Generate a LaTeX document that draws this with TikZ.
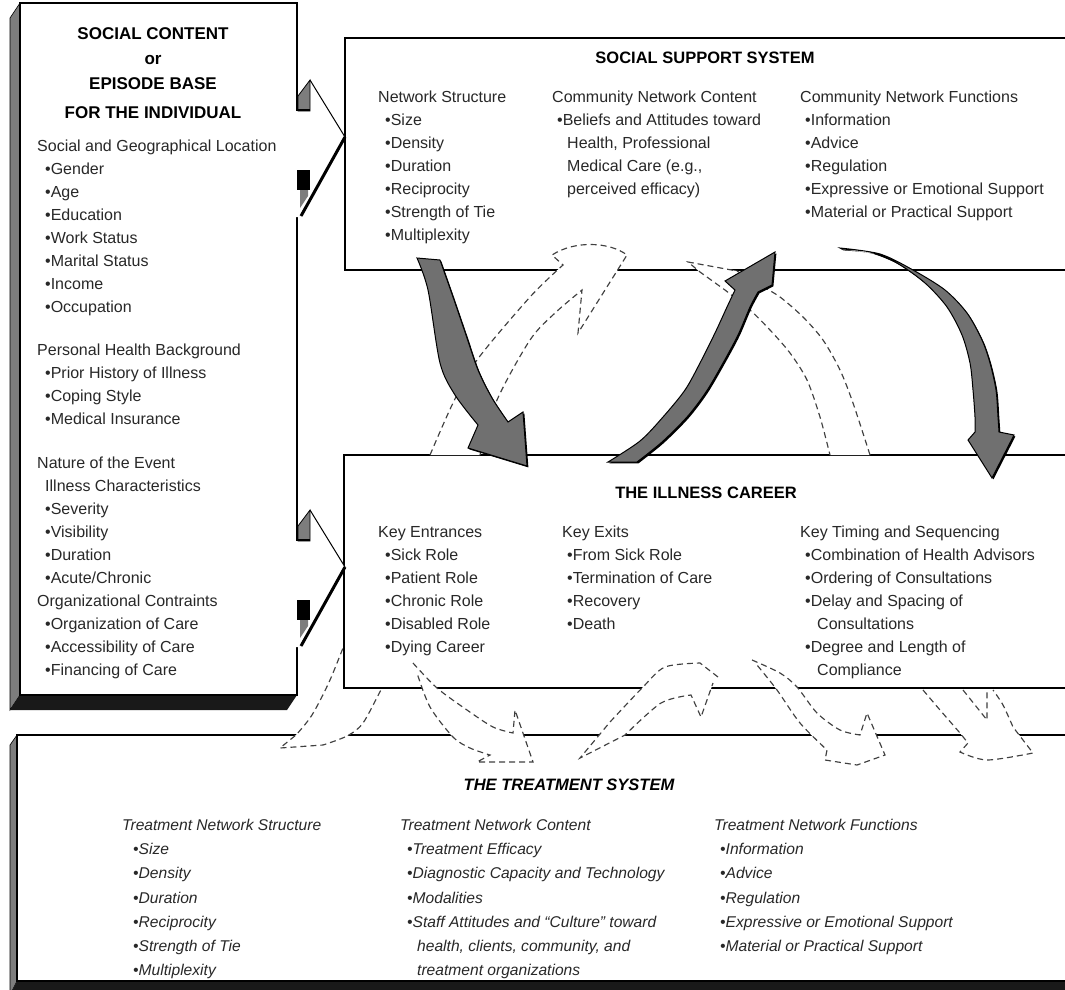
\documentclass[tikz,border=0pt]{standalone}
\usepackage{fontspec}
\setmainfont{Liberation Sans}
\usetikzlibrary{shadows}
\definecolor{arrowgray}{RGB}{112,112,112}
\definecolor{sidegray}{RGB}{125,125,125}
\definecolor{textgray}{RGB}{40,40,40}
\newcommand{\ind}[1][7pt]{\hspace*{#1}}

\begin{document}
\begin{tikzpicture}[x=1pt, y=-1pt,
    boxframe/.style={draw=black, line width=1.6pt, fill=white},
    txt/.style={anchor=north west, inner sep=0pt, align=left, text=textgray, font=\fontsize{16}{23}\selectfont},
    ttxt/.style={txt, font=\fontsize{15.6}{24.2}\selectfont\itshape},
    heading/.style={inner sep=0pt, font=\fontsize{16.5}{20}\selectfont\bfseries},
    bigarrow/.style={fill=arrowgray, draw=black, line width=1pt,
        drop shadow={shadow xshift=1.4pt, shadow yshift=-1.4pt, fill=black, opacity=1}},
    dasharrow/.style={draw=black!75, fill=white, line width=1.15pt, dash pattern=on 6pt off 4pt}]

    \useasboundingbox (0,0) rectangle (1065,989);
    \fill[white] (0,0) rectangle (1065,989);
    \clip (0,0) rectangle (1065,989);

    % social content / episode base
    \filldraw[fill=sidegray, draw=black, line width=0.6pt] (20,3) -- (10,18) -- (10,710) -- (20,695) -- cycle;
    \fill[black!90] (20,695) -- (297,695) -- (287,710) -- (10,710) -- cycle;
    \draw[boxframe] (20,3) rectangle (297,695);
    \node[heading, font=\fontsize{17}{25}\selectfont\bfseries, align=center, anchor=north] (episode) at (153,27)
        {SOCIAL CONTENT\\or\\EPISODE BASE\\[4pt]FOR THE INDIVIDUAL};
    \node[txt] (location) at (37,140) {Social and Geographical Location\\
        \ind[8pt]•Gender\\ \ind[8pt]•Age\\ \ind[8pt]•Education\\ \ind[8pt]•Work Status\\
        \ind[8pt]•Marital Status\\ \ind[8pt]•Income\\ \ind[8pt]•Occupation};
    \node[txt] (background) at (37,344) {Personal Health Background\\
        \ind[8pt]•Prior History of Illness\\ \ind[8pt]•Coping Style\\ \ind[8pt]•Medical Insurance};
    \node[txt] (event) at (37,457) {Nature of the Event\\
        \ind[8pt]Illness Characteristics\\ \ind[8pt]•Severity\\ \ind[8pt]•Visibility\\
        \ind[8pt]•Duration\\ \ind[8pt]•Acute/Chronic\\
        Organizational Contraints\\
        \ind[8pt]•Organization of Care\\ \ind[8pt]•Accessibility of Care\\ \ind[8pt]•Financing of Care};

    % treatment system
    \filldraw[fill=sidegray, draw=black, line width=0.6pt] (17,735) -- (10,745) -- (10,995) -- (17,981) -- cycle;
    \fill[black!90] (17,981) -- (1075,981) -- (1068,995) -- (10,995) -- cycle;
    \draw[boxframe] (17,735) rectangle (1075,981);
    \node[heading, font=\fontsize{16.5}{20}\selectfont\bfseries\itshape] (treatment) at (569,785) {THE TREATMENT SYSTEM};
    \node[ttxt] (tsstruct) at (122,819) {Treatment Network Structure\\
        \ind[11pt]•Size\\ \ind[11pt]•Density\\ \ind[11pt]•Duration\\ \ind[11pt]•Reciprocity\\
        \ind[11pt]•Strength of Tie\\ \ind[11pt]•Multiplexity};
    \node[ttxt] (tscontent) at (400,819) {Treatment Network Content\\
        \ind•Treatment Efficacy\\ \ind•Diagnostic Capacity and Technology\\ \ind•Modalities\\
        \ind•Staff Attitudes and “Culture” toward\\ \ind[17pt]health, clients, community, and\\
        \ind[17pt]treatment organizations};
    \node[ttxt] (tsfunc) at (714,819) {Treatment Network Functions\\
        \ind[6pt]•Information\\ \ind[6pt]•Advice\\ \ind[6pt]•Regulation\\
        \ind[6pt]•Expressive or Emotional Support\\ \ind[6pt]•Material or Practical Support};

    \filldraw[dasharrow] plot[smooth] coordinates {(350,630) (330,680) (312,715) (296,735)} -- (280,748)
        -- plot[smooth] coordinates {(323,745) (347,736) (363,723) (382,688) (392,672)};

    % social support system
    \draw[boxframe] (345,38) rectangle (1075,270);
    \node[heading] (support) at (705,58) {SOCIAL SUPPORT SYSTEM};
    \node[txt] (ssstruct) at (378,91) {Network Structure\\
        \ind•Size\\ \ind•Density\\ \ind•Duration\\ \ind•Reciprocity\\ \ind•Strength of Tie\\ \ind•Multiplexity};
    \node[txt] (sscontent) at (552,91) {Community Network Content\\
        \ind[5pt]•Beliefs and Attitudes toward\\ \ind[15pt]Health, Professional\\
        \ind[15pt]Medical Care (e.g.,\\ \ind[15pt]perceived efficacy)};
    \node[txt] (ssfunc) at (800,91) {Community Network Functions\\
        \ind[5pt]•Information\\ \ind[5pt]•Advice\\ \ind[5pt]•Regulation\\
        \ind[5pt]•Expressive or Emotional Support\\ \ind[5pt]•Material or Practical Support};

    % illness career
    \draw[boxframe] (344,455) rectangle (1075,688);
    \node[heading] (career) at (706,493) {THE ILLNESS CAREER};
    \node[txt] (icentr) at (378,526) {Key Entrances\\
        \ind•Sick Role\\ \ind•Patient Role\\ \ind•Chronic Role\\ \ind•Disabled Role\\ \ind•Dying Career};
    \node[txt] (icexit) at (562,526) {Key Exits\\
        \ind[5pt]•From Sick Role\\ \ind[5pt]•Termination of Care\\ \ind[5pt]•Recovery\\ \ind[5pt]•Death};
    \node[txt] (ictiming) at (800,526) {Key Timing and Sequencing\\
        \ind[5pt]•Combination of Health Advisors\\ \ind[5pt]•Ordering of Consultations\\
        \ind[5pt]•Delay and Spacing of\\ \ind[17pt]Consultations\\
        \ind[5pt]•Degree and Length of\\ \ind[17pt]Compliance};

    % dashed feedback arrows
    \filldraw[dasharrow] plot[smooth] coordinates {(430,455) (453,403) (477,360) (530,297) (563,265)}
        -- (552,255) .. controls (575,240) and (610,242) .. (627,255) -- (578,333)
        -- plot[smooth] coordinates {(582,290) (555,313) (530,340) (497,400) (480,455)};
    \filldraw[dasharrow] plot[smooth] coordinates {(870,455) (853,403) (840,370) (823,340) (803,317) (780,297) (760,285) (737,271)}
        -- (688,262) -- (700,272)
        -- plot[smooth] coordinates {(725,290) (750,310) (770,330) (790,353) (807,380) (820,417) (830,455)};
    \filldraw[dasharrow] plot[smooth] coordinates {(413,663) (437,688) (467,710) (493,727) (513,733)}
        -- (515,710) -- (533,762) -- (477,762)
        -- plot[smooth] coordinates {(490,755) (470,748) (453,737) (430,707) (417,673)};
    \filldraw[dasharrow] (718,677) -- plot[smooth] coordinates {(700,663) (665,667) (643,687) (610,722)}
        -- (580,758) -- plot[smooth] coordinates {(625,735) (661,703) (691,695)} -- (701,717) -- (713,683);
    \filldraw[dasharrow] plot[smooth] coordinates {(752,660) (780,673) (797,687) (817,713) (840,730) (860,735)}
        -- (867,713) -- (885,755) -- plot[smooth] coordinates {(857,765) (825,760)}
        -- plot[smooth] coordinates {(827,750) (800,723) (777,690) (757,665)};
    \filldraw[dasharrow] plot[smooth] coordinates {(923,690) (940,710) (960,733)} -- (968,743)
        -- plot[smooth] coordinates {(960,752) (987,760) (1033,753)}
        -- plot[smooth] coordinates {(1013,727) (1003,705) (993,690)};
    \draw[dasharrow, fill=none] (963,690) -- (987,720) -- (987,690);

    % big gray arrows
    \filldraw[bigarrow] plot[smooth] coordinates {(417,258) (428,290) (440,363) (455,395) (478,425)}
        -- (468,448) -- (527,466) -- (523,412)
        -- plot[smooth] coordinates {(508,422) (492,398) (478,370) (466,335) (453,297) (440,260)} -- cycle;
    \filldraw[bigarrow] plot[smooth] coordinates {(608,462) (640,441) (663,417) (685,390) (700,363) (715,333) (727,307) (735,290)}
        -- (725,281) -- (775,252) -- (772,285)
        -- plot[smooth] coordinates {(758,292) (750,307) (738,335) (723,363) (706,392) (687,417) (662,442) (637,462)} -- cycle;
    \filldraw[bigarrow] plot[smooth] coordinates {(840,248) (880,254) (913,270) (945,290) (967,313) (982,340) (990,363) (996,390) (998,417) (999,432)}
        -- (1014,435) -- (992,478) -- (968,440)
        -- plot[smooth] coordinates {(975,432) (975,417) (973,390) (970,363) (962,335) (947,307) (925,283) (897,263) (870,252) (842,249)} -- cycle;

    % chevrons out of the episode base
    \foreach \dy in {0,430}{
        \begin{scope}[shift={(0,\dy)}]
            \fill[white] (296,111) -- (329,111) -- (345,137) -- (300,217) -- (296,217) -- cycle;
            \filldraw[fill=sidegray, draw=black, line width=0.8pt] (298,111) -- (298,96) -- (310,80) -- (310,111) -- cycle;
            \draw[line width=1pt] (310,80) -- (345,137);
            \draw[line width=3pt] (345,137) -- (301,216);
            \fill[black] (297,170) rectangle (310,190);
            \fill[sidegray] (300,190) -- (308,190) -- (308,196) -- (300,208) -- cycle;
            \draw[line width=1.6pt] (297,110) -- (310,110);
        \end{scope}
    }
\end{tikzpicture}
\end{document}
